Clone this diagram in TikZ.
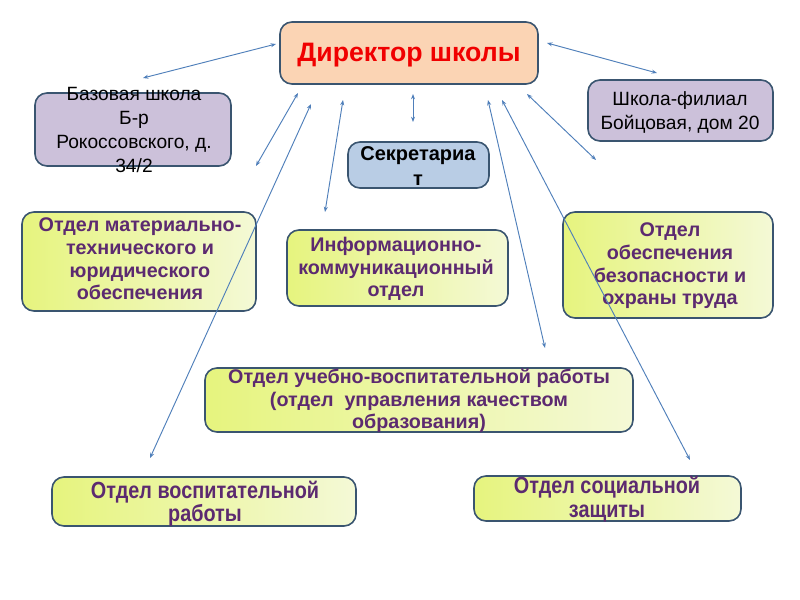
\documentclass[tikz,border=0pt]{standalone}
\usepackage{fontspec}
\setmainfont{Liberation Sans}
\newfontfamily\narrowfont[FakeStretch=0.85]{Liberation Sans}
\usetikzlibrary{arrows.meta,fit}
\definecolor{bord}{HTML}{3A5570}
\definecolor{peach}{HTML}{FBD4B4}
\definecolor{lav}{HTML}{CCC1DA}
\definecolor{lblue}{HTML}{B9CDE5}
\definecolor{ygA}{HTML}{E6F47E}
\definecolor{ygB}{HTML}{F4F9D6}
\definecolor{purp}{HTML}{5C2A70}
\definecolor{arr}{HTML}{4F7FBA}
\definecolor{dred}{HTML}{F00000}
\begin{document}
\begin{tikzpicture}[x=0.75pt,y=-0.75pt,
  box/.style={draw=bord,line width=1.2pt,rounded corners=9pt,inner sep=0pt},
  greenbox/.style={box,left color=ygA,right color=ygB},
  lbl/.style={align=center,inner sep=0pt},
  gtxt/.style={lbl,text=purp,font=\bfseries\fontsize{14.8}{17}\selectfont},
  ntxt/.style={lbl,text=purp,font=\narrowfont\bfseries\fontsize{17.5}{17.5}\selectfont},
  rtxt/.style={lbl,text=black,font=\fontsize{14.4}{18}\selectfont},
  link/.style={draw=arr,line width=0.7pt,{Stealth[length=4pt,width=3pt]}-{Stealth[length=4pt,width=3pt]}}
]
\fill[white] (0,0) rectangle (800,600);
\useasboundingbox (0,0) rectangle (800,600);

% boxes
\node[box,fill=peach,fit={(280,22)(538,84)}] (dir) {};
\node[lbl,text=dred,font=\bfseries\fontsize{20}{22}\selectfont] (dirt) at (409,55) {Директор школы};

\node[box,fill=lav,fit={(35,93)(231,166)}] (base) {};
\node[rtxt] (baset) at (134,130) {Базовая школа\\Б-р\\Рокоссовского, д.\\34/2};

\node[box,fill=lav,fit={(588,80)(773,141)}] (fil) {};
\node[rtxt] (filt) at (680,112) {Школа-филиал\\Бойцовая, дом 20};

\node[box,fill=lblue,fit={(348,142)(489,188)}] (sec) {};
\node[lbl,text=black,font=\bfseries\fontsize{15}{19}\selectfont] (sect) at (418,166) {Секретариа\\т};

\node[greenbox,fit={(22,212)(256,311)}] (mto) {};
\node[gtxt] (mtot) at (140,259) {Отдел материально-\\технического и\\юридического\\обеспечения};

\node[greenbox,fit={(287,230)(508,306)}] (ikt) {};
\node[gtxt] (iktt) at (396,269) {Информационно-\\коммуникационный\\отдел};

\node[greenbox,fit={(563,212)(773,318)}] (obt) {};
\node[gtxt] (obtt) at (670,266) {Отдел\\обеспечения\\безопасности и\\охраны труда};

\node[greenbox,fit={(205,368)(633,432)}] (uvr) {};
\node[gtxt] (uvrt) at (419,401) {Отдел учебно-воспитательной работы\\(отдел\ \ управления качеством\\образования)};

\node[greenbox,fit={(52,477)(356,526)}] (vosp) {};
\node[ntxt] (vospt) at (205,504) {Отдел воспитательной\\работы};

\node[greenbox,fit={(474,476)(741,521)}] (soc) {};
\node[ntxt] (soct) at (607,499) {Отдел социальной\\защиты};

% connector ends
\coordinate (a1s) at (143,78);  \coordinate (a1e) at (276,44);
\coordinate (a2s) at (256,166); \coordinate (a2e) at (298,93);
\coordinate (a3s) at (150,458); \coordinate (a3e) at (311,104);
\coordinate (a4s) at (325,212); \coordinate (a4e) at (343,100);
\coordinate (a5s) at (413,122); \coordinate (a5e) at (413,94);
\coordinate (a6s) at (545,348); \coordinate (a6e) at (488,100);
\coordinate (a7s) at (690,460); \coordinate (a7e) at (502,100);
\coordinate (a8s) at (596,160); \coordinate (a8e) at (527,94);
\coordinate (a9s) at (657,73);  \coordinate (a9e) at (547,43);

\foreach \i in {1,...,9} {\draw[link] (a\i s) -- (a\i e);}
\end{tikzpicture}
\end{document}
